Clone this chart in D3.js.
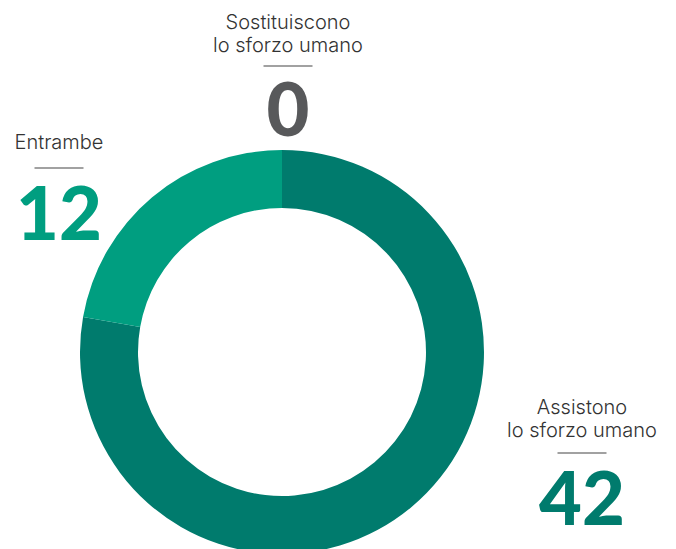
<!DOCTYPE html>
<html>
<head>
<meta charset="utf-8">
<script src="https://cdn.jsdelivr.net/npm/d3@7"></script>
<style>
  html, body { margin: 0; padding: 0; background: #fff; }
  svg { display: block; }
</style>
</head>
<body>
<svg id="chart" width="676" height="549"></svg>
<script>
// Categories, values and colours of the donut
const categories = ["Assistono lo sforzo umano", "Entrambe", "Sostituiscono lo sforzo umano"];
const values = [42, 12, 0];
const sliceColors = ["#007b6d", "#009e80", "#58595b"];
// Label lines and value-number colours for each category
const labelLines = [["Assistono", "lo sforzo umano"], ["Entrambe"], ["Sostituiscono", "lo sforzo umano"]];
const numberColors = ["#007b6d", "#009e80", "#58595b"];

const svg = d3.select("#chart");
const cx = 282, cy = 352, outerR = 202, innerR = 144;

const pie = d3.pie().sort(null).value(d => d)(values);
const arc = d3.arc().innerRadius(innerR).outerRadius(outerR);

const g = svg.append("g").attr("transform", `translate(${cx},${cy})`);
g.selectAll("path")
  .data(pie.filter(d => d.value > 0))
  .enter().append("path")
  .attr("d", arc)
  .attr("fill", d => sliceColors[d.index]);

// Label blocks: first baseline, rule and value baseline for each category
const labelPos = [
  { x: 582, y: 414, rule: 453, num: 525 },
  { x: 59, y: 149, rule: 168, num: 240 },
  { x: 288, y: 29, rule: 66, num: 136 }
];
const labelFont = "Inter, 'Open Sans', sans-serif";
const numberFont = "Lato, 'Noto Sans', sans-serif";

labelPos.forEach((p, i) => {
  const blk = svg.append("g").attr("transform", `translate(${p.x},0)`);
  labelLines[i].forEach((t, j) => {
    blk.append("text")
      .attr("x", 0).attr("y", p.y + j * 23)
      .attr("text-anchor", "middle")
      .attr("font-family", labelFont)
      .attr("font-weight", 300)
      .attr("font-size", 20)
      .attr("fill", "#333")
      .text(t);
  });
  blk.append("line")
    .attr("x1", -24.5).attr("x2", 24.5)
    .attr("y1", p.rule).attr("y2", p.rule)
    .attr("stroke", "#444").attr("stroke-width", 1.2);
  blk.append("text")
    .attr("x", 0).attr("y", p.num)
    .attr("text-anchor", "middle")
    .attr("font-family", numberFont)
    .attr("font-weight", 900)
    .attr("font-size", 74)
    .attr("fill", numberColors[i])
    .text(values[i]);
});
</script>
</body>
</html>
